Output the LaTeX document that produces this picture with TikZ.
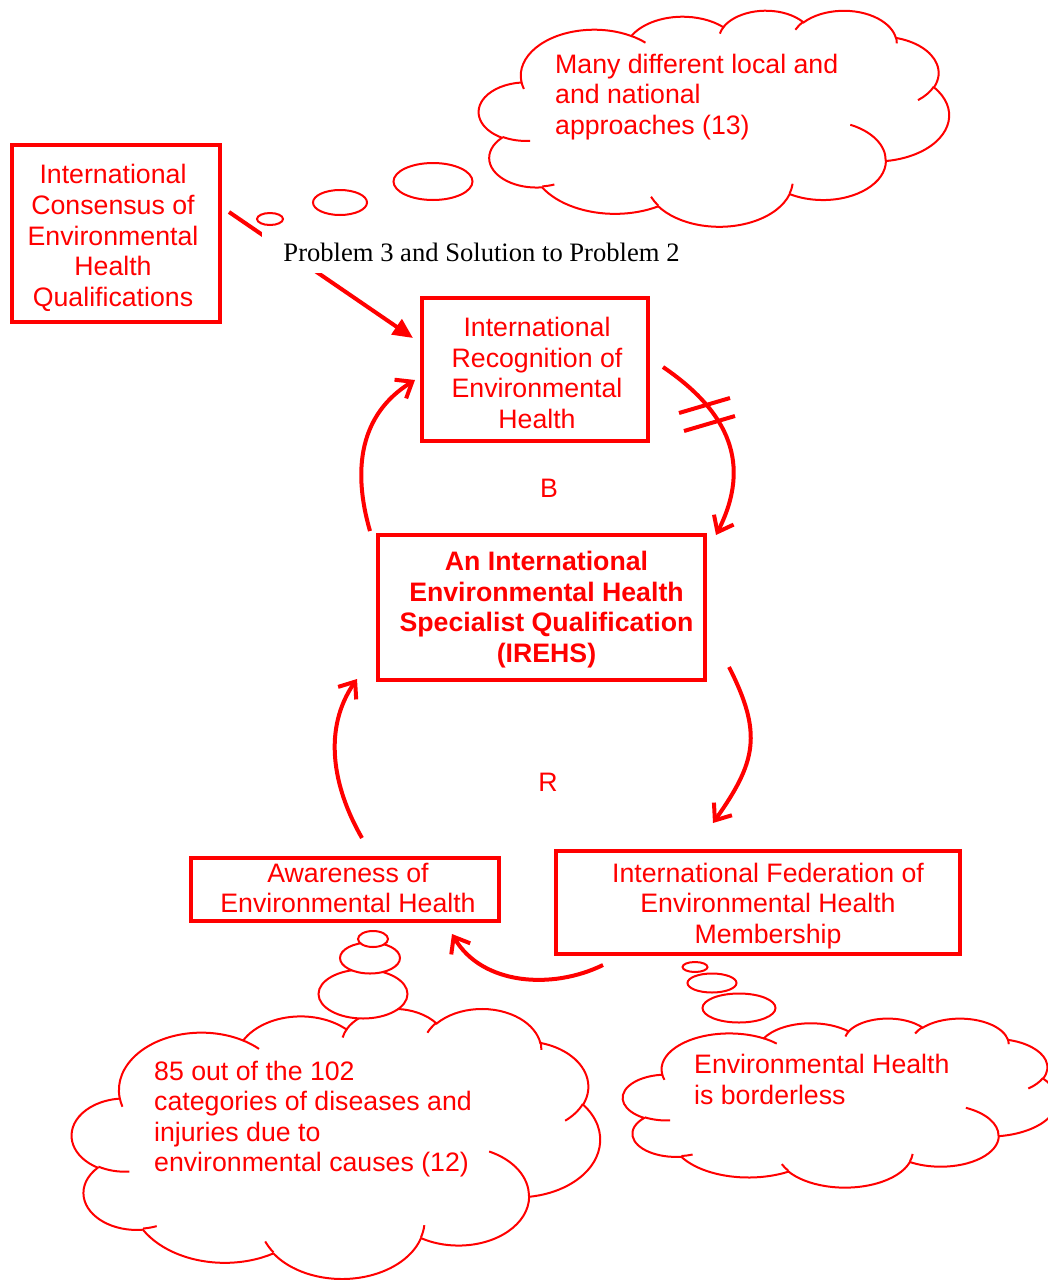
\documentclass[tikz,border=0pt]{standalone}
\usepackage{fontspec}
\setmainfont{Liberation Sans}
\newfontfamily\serifrm{Liberation Serif}
\usetikzlibrary{arrows.meta,calc}
\definecolor{rd}{RGB}{255,0,0}

\newcommand\drawcloud[4]{%
\begin{scope}[shift={(#1,#2)},xscale=#3/100,yscale=#4/100]
\filldraw[cloudline,fill=white] (9.028,33.264)
arc[start angle=-187.75,end angle=-59.64,x radius=15.632,y radius=21.273]
arc[start angle=-152.02,end angle=-45.43,x radius=12.345,y radius=16.822]
arc[start angle=-153.48,end angle=-37.30,x radius=10.104,y radius=13.762]
arc[start angle=-139.70,end angle=-10.21,x radius=11.243,y radius=15.266]
arc[start angle=-74.77,end angle=23.21,x radius=12.345,y radius=16.836]
arc[start angle=-37.50,end angle=81.86,x radius=15.683,y radius=21.343]
arc[start angle=0.46,end angle=121.98,x radius=13.391,y radius=18.211]
arc[start angle=16.85,end angle=146.24,x radius=15.630,y radius=21.331]
arc[start angle=58.98,end angle=150.20,x radius=17.870,y radius=24.405]
arc[start angle=83.31,end angle=223.10,x radius=10.093,y radius=13.699]
arc[start angle=120.36,end angle=264.11,x radius=10.058,y radius=13.762]
-- cycle;
\draw[cloudline]
(10.863,60.595) arc[start angle=85.55,end angle=120.35,x radius=10.058,y radius=13.762]
(16.037,80.785) arc[start angle=68.23,end angle=83.31,x radius=10.093,y radius=13.699]
(38.144,90.486) arc[start angle=146.24,end angle=158.48,x radius=15.630,y radius=21.331]
(66.729,80.442) arc[start angle=4.74,end angle=16.85,x radius=15.630,y radius=21.331]
(79.002,53.134) arc[start angle=-64.03,end angle=0.46,x radius=13.391,y radius=18.211]
(96.755,35.542) arc[start angle=23.21,end angle=49.64,x radius=12.345,y radius=16.836]
(88.713,12.560) arc[start angle=-10.21,end angle=0.82,x radius=11.243,y radius=15.266]
(67.310,9.148) arc[start angle=-156.29,end angle=-139.70,x radius=11.243,y radius=15.266]
(51.252,10.926) arc[start angle=-167.73,end angle=-153.48,x radius=10.104,y radius=13.762]
(32.407,12.019) arc[start angle=-59.64,end angle=-45.72,x radius=15.632,y radius=21.273]
(9.553,36.549) arc[start angle=163.19,end angle=172.26,x radius=15.632,y radius=21.273];
\end{scope}}

\begin{document}
\begin{tikzpicture}[x=1pt,y=-1pt,
  boxst/.style={draw=rd,line width=4pt,fill=white,inner sep=0pt},
  txt/.style={text=rd,font=\fontsize{26.7}{30.6}\selectfont,align=center,inner sep=0pt},
  btxt/.style={text=rd,font=\bfseries\fontsize{26.7}{30.6}\selectfont,align=center,inner sep=0pt},
  ctxt/.style={text=rd,font=\fontsize{26.7}{30.6}\selectfont,align=left,inner sep=0pt,anchor=west},
  cloudline/.style={draw=rd,line width=2pt},
  bub/.style={draw=rd,line width=2pt,fill=white},
  carr/.style={draw=rd,line width=4pt,-{Straight Barb[length=14pt,width=22pt]}},
  sarr/.style={draw=rd,line width=4pt,-{Triangle[length=20pt,width=18pt]}},
  lbl/.style={fill=white,inner sep=0pt,font=\serifrm\fontsize{26.6}{30}\selectfont,text=black}]
\useasboundingbox (0,0) rectangle (1048,1280);
\fill[white] (0,0) rectangle (1048,1280);

% clouds
\drawcloud{479}{10}{470}{216}
\drawcloud{72}{1008}{528}{270}
\drawcloud{623}{1018}{434}{169}

% thought bubbles
\draw[bub] (433,181.5) ellipse [x radius=39.5,y radius=18.5];
\draw[bub] (340,202.5) ellipse [x radius=27,y radius=12.5];
\draw[bub] (270,219) ellipse [x radius=13,y radius=6];

\draw[bub] (363,994) ellipse [x radius=44.5,y radius=24.5];
\draw[bub] (370,958) ellipse [x radius=30,y radius=15.5];
\draw[bub] (373,939) ellipse [x radius=15,y radius=8];

\draw[bub] (739,1008) ellipse [x radius=36.5,y radius=14.5];
\draw[bub] (712,983) ellipse [x radius=24.5,y radius=9.5];
\draw[bub] (695,967) ellipse [x radius=12.5,y radius=5];

% cloud texts
\node[ctxt] (t1) at (555,96.8) {Many different local and\\and national\\approaches (13)};
\node[ctxt] (t2) at (154,1119) {85 out of the 102\\categories of diseases and\\injuries due to\\environmental causes (12)};
\node[ctxt] (t3) at (694,1079.5) {Environmental Health\\is borderless};

% boxes
\node[boxst,minimum width=208pt,minimum height=177pt] (cons) at (116,233.5) {};
\node[boxst,minimum width=226pt,minimum height=143pt] (recog) at (535,369.5) {};
\node[boxst,minimum width=327pt,minimum height=145pt] (irehs) at (541.5,607.5) {};
\node[boxst,minimum width=308pt,minimum height=63pt] (aware) at (345,889.5) {};
\node[boxst,minimum width=404pt,minimum height=103pt] (fed) at (758,902.5) {};

\node[txt] (consT) at (113,238) {International\\Consensus of\\Environmental\\Health\\Qualifications};
\node[txt] (recogT) at (537,373) {International\\Recognition of\\Environmental\\Health};
\node[btxt] (irehsT) at (546.5,609.5) {An International\\Environmental Health\\Specialist Qualification\\(IREHS)};
\node[txt] (awareT) at (348,888) {Awareness of\\Environmental Health};
\node[txt] (fedT) at (768,906) {International Federation of\\Environmental Health\\Membership};

\node[txt] (B) at (549,488) {B};
\node[txt] (R) at (548,782) {R};

% connectors
\draw[sarr] ($(cons.east)+(7,-21.5)$) -- ($(recog.west)+(-7,-31.5)$);
\node[lbl,minimum width=439pt,minimum height=41pt] (plbl) at (481.5,252.5) {Problem 3 and Solution to Problem 2};

\draw[carr] ($(recog.east)+(13,-2.5)$) .. controls +(66,45) and +(36,-71) .. ($(irehs.north east)+(9,2)$);
\draw[carr] ($(irehs.north west)+(-6,-2)$) .. controls +(-18,-62) and +(-55,34) .. ($(recog.west)+(-5,10.5)$);
\draw[carr] ($(irehs.south east)+(22,-15)$) .. controls +(34,67) and +(43,-61) .. ($(fed.north west)+(159,-26)$);
\draw[carr] ($(aware.north)+(17,-18)$) .. controls +(-30,-52) and +(-34,49) .. ($(irehs.south west)+(-19,-3)$);
\draw[carr] ($(fed.south west)+(49,9)$) .. controls +(-51,25) and +(30,51) .. ($(aware.east)+(-49,44.5)$);

% delay marks
\draw[rd,line width=4pt] (679,413) -- (730,398);
\draw[rd,line width=4pt] (684,431) -- (735,416);
\end{tikzpicture}
\end{document}
